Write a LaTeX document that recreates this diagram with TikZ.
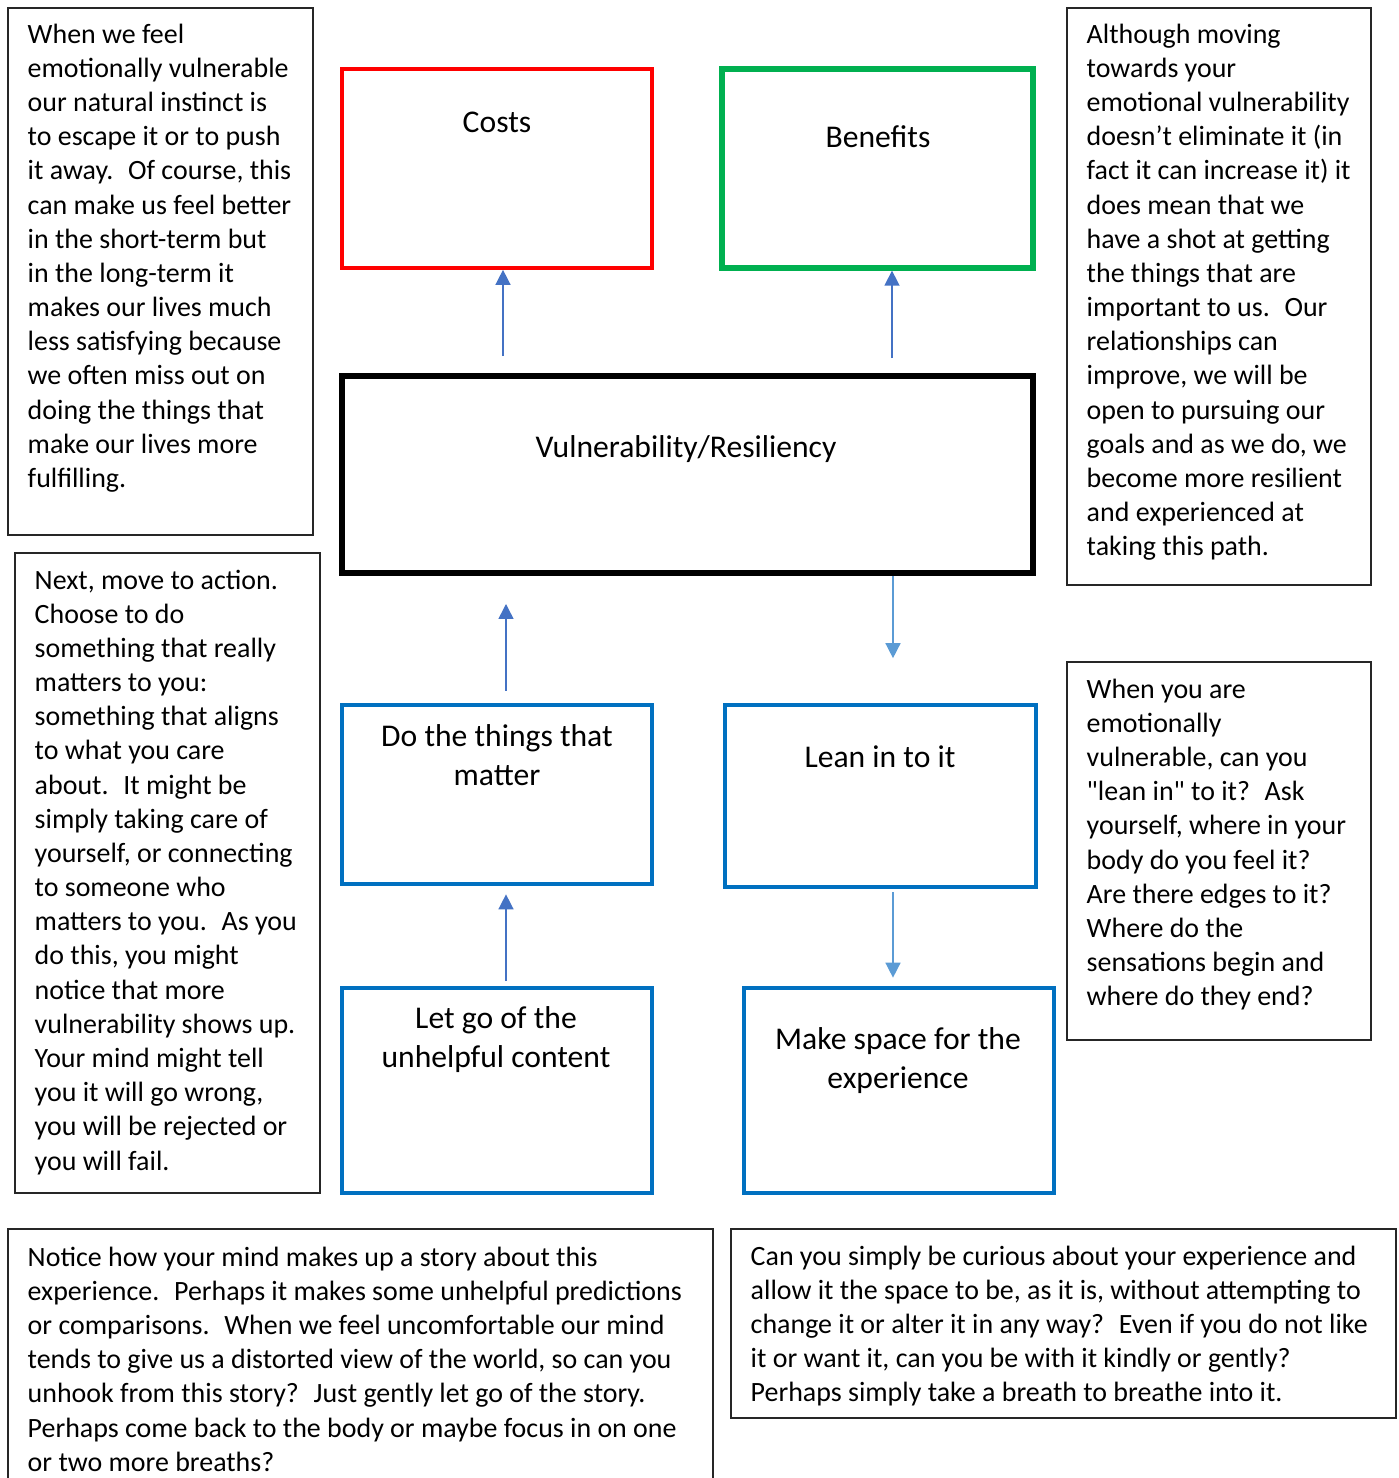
\documentclass[tikz,border=0pt]{standalone}
\usepackage{fontspec}
\setmainfont{Carlito}
\newfontfamily\rawfont{Carlito}[Ligatures=TeXOff]
\usepackage{xcolor}
\usetikzlibrary{arrows.meta,positioning}
\definecolor{cCost}{HTML}{FF0000}
\definecolor{cGain}{HTML}{00B050}
\definecolor{cStep}{HTML}{0070C0}
\definecolor{cUp}{HTML}{4472C4}
\definecolor{cDown}{HTML}{5B9BD5}
\newcommand{\sq}{{\rawfont"}}
\tikzset{
  frame/.style 2 args = {rectangle, inner sep=0pt,
                  minimum width=#1*0.02cm, minimum height=#2*0.02cm},
  note/.style  = {draw=black!85, line width=0.7pt},
  cbox/.style  = {draw=cCost, line width=2.1pt},
  gbox/.style  = {draw=cGain, line width=3pt},
  vbox/.style  = {draw=black, line width=3.4pt},
  sbox/.style  = {draw=cStep, line width=2.1pt},
  body/.style  = {anchor=north west, inner sep=0pt, align=left,
                  font=\fontsize{15.9}{19.45}\selectfont},
  ttl/.style   = {inner sep=0pt, align=center,
                  font=\fontsize{18}{22.2}\selectfont},
  upar/.style  = {-{Triangle[length=0.3cm,width=0.3cm]}, draw=cUp, line width=0.85pt},
  dnar/.style  = {-{Triangle[length=0.3cm,width=0.3cm]}, draw=cDown, line width=0.85pt},
}

\begin{document}
\begin{tikzpicture}[x=0.02cm, y=-0.02cm]
  \useasboundingbox (0,0) rectangle (1399,1478);

  % central chain
  \node[frame={310}{199}, cbox] (costs) at (497,168.5) {};
  \node[frame={311}{199}, gbox] (gains) at (877.5,168.5) {};
  \node[frame={691}{197}, vbox] (vul) at (687.5,474.5) {};
  \node[frame={310}{179}, sbox] (act) at (497,794.5) {};
  \node[frame={311}{182}, sbox] (lean) at (880.5,796) {};
  \node[frame={310}{205}, sbox] (letgo) at (497,1090.5) {};
  \node[frame={310}{205}, sbox] (space) at (899,1090.5) {};

  \node[ttl] (costsT) at (497,122) {Costs};
  \node[ttl] (gainsT) at (878,137) {Benefits};
  \node[ttl] (vulT) at (686,449) {Vulnerability/Resiliency};
  \node[ttl] (actT) at (497,755.5) {Do the things that\\matter};
  \node[ttl] (leanT) at (880,757) {Lean in to it};
  \node[ttl] (letgoT) at (496,1039.5) {Let go of the\\unhelpful content};
  \node[ttl] (spaceT) at (898,1060.5) {Make space for the\\experience};

  \draw[upar, shorten <=0.34cm] (vul.north -| 503,0) -- (costs.south -| 503,0);
  \draw[upar, shorten <=0.3cm] (vul.north -| 892,0) -- (gains.south -| 892,0);
  \draw[dnar, shorten >=0.9cm] (vul.south -| 893,0) -- (lean.north -| 893,0);
  \draw[upar, shorten <=0.25cm, shorten >=0.56cm] (act.north -| 506,0) -- (vul.south -| 506,0);
  \draw[upar, shorten <=0.1cm, shorten >=0.17cm] (letgo.north -| 506,0) -- (act.south -| 506,0);
  \draw[dnar, shorten <=0.07cm, shorten >=0.17cm] (lean.south -| 893,0) -- (space.north -| 893,0);

  % side notes
  \node[frame={305}{527}, note] (nEscape) at (160.5,271.5) {};
  \node[frame={304}{577}, note] (nGain) at (1219,296.5) {};
  \node[frame={305}{640}, note] (nAction) at (167.5,873) {};
  \node[frame={304}{378}, note] (nLean) at (1219,851) {};
  \node[frame={705}{271}, note] (nStory) at (360.5,1364.5) {};
  \node[frame={665}{189}, note] (nSpace) at (1063.5,1323.5) {};

  \node[body] (tEscape) at ([shift={(20,16)}]nEscape.north west) {When we feel\\
    emotionally vulnerable\\
    our natural instinct is\\
    to escape it or to push\\
    it away.~ Of course, this\\
    can make us feel better\\
    in the short-term but\\
    in the long-term it\\
    makes our lives much\\
    less satisfying because\\
    we often miss out on\\
    doing the things that\\
    make our lives more\\
    fulfilling.};
  \node[body] (tGain) at ([shift={(20,16)}]nGain.north west) {Although moving\\
    towards your\\
    emotional vulnerability\\
    doesn’t eliminate it (in\\
    fact it can increase it) it\\
    does mean that we\\
    have a shot at getting\\
    the things that are\\
    important to us.~ Our\\
    relationships can\\
    improve, we will be\\
    open to pursuing our\\
    goals and as we do, we\\
    become more resilient\\
    and experienced at\\
    taking this path.};
  \node[body] (tAction) at ([shift={(20,17)}]nAction.north west) {Next, move to action.\\
    Choose to do\\
    something that really\\
    matters to you:\\
    something that aligns\\
    to what you care\\
    about.~ It might be\\
    simply taking care of\\
    yourself, or connecting\\
    to someone who\\
    matters to you.~ As you\\
    do this, you might\\
    notice that more\\
    vulnerability shows up.\\
    Your mind might tell\\
    you it will go wrong,\\
    you will be rejected or\\
    you will fail.};
  \node[body] (tLean) at ([shift={(20,17)}]nLean.north west) {When you are\\
    emotionally\\
    vulnerable, can you\\
    \sq lean in\sq{} to it?~ Ask\\
    yourself, where in your\\
    body do you feel it?\\
    Are there edges to it?\\
    Where do the\\
    sensations begin and\\
    where do they end?};
  \node[body] (tStory) at ([shift={(20,18)}]nStory.north west) {Notice how your mind makes up a story about this\\
    experience.~ Perhaps it makes some unhelpful predictions\\
    or comparisons.~ When we feel uncomfortable our mind\\
    tends to give us a distorted view of the world, so can you\\
    unhook from this story?~ Just gently let go of the story.\\
    Perhaps come back to the body or maybe focus in on one\\
    or two more breaths?};
  \node[body] (tSpace) at ([shift={(20,17)}]nSpace.north west) {Can you simply be curious about your experience and\\
    allow it the space to be, as it is, without attempting to\\
    change it or alter it in any way?~ Even if you do not like\\
    it or want it, can you be with it kindly or gently?\\
    Perhaps simply take a breath to breathe into it.};
\end{tikzpicture}
\end{document}
